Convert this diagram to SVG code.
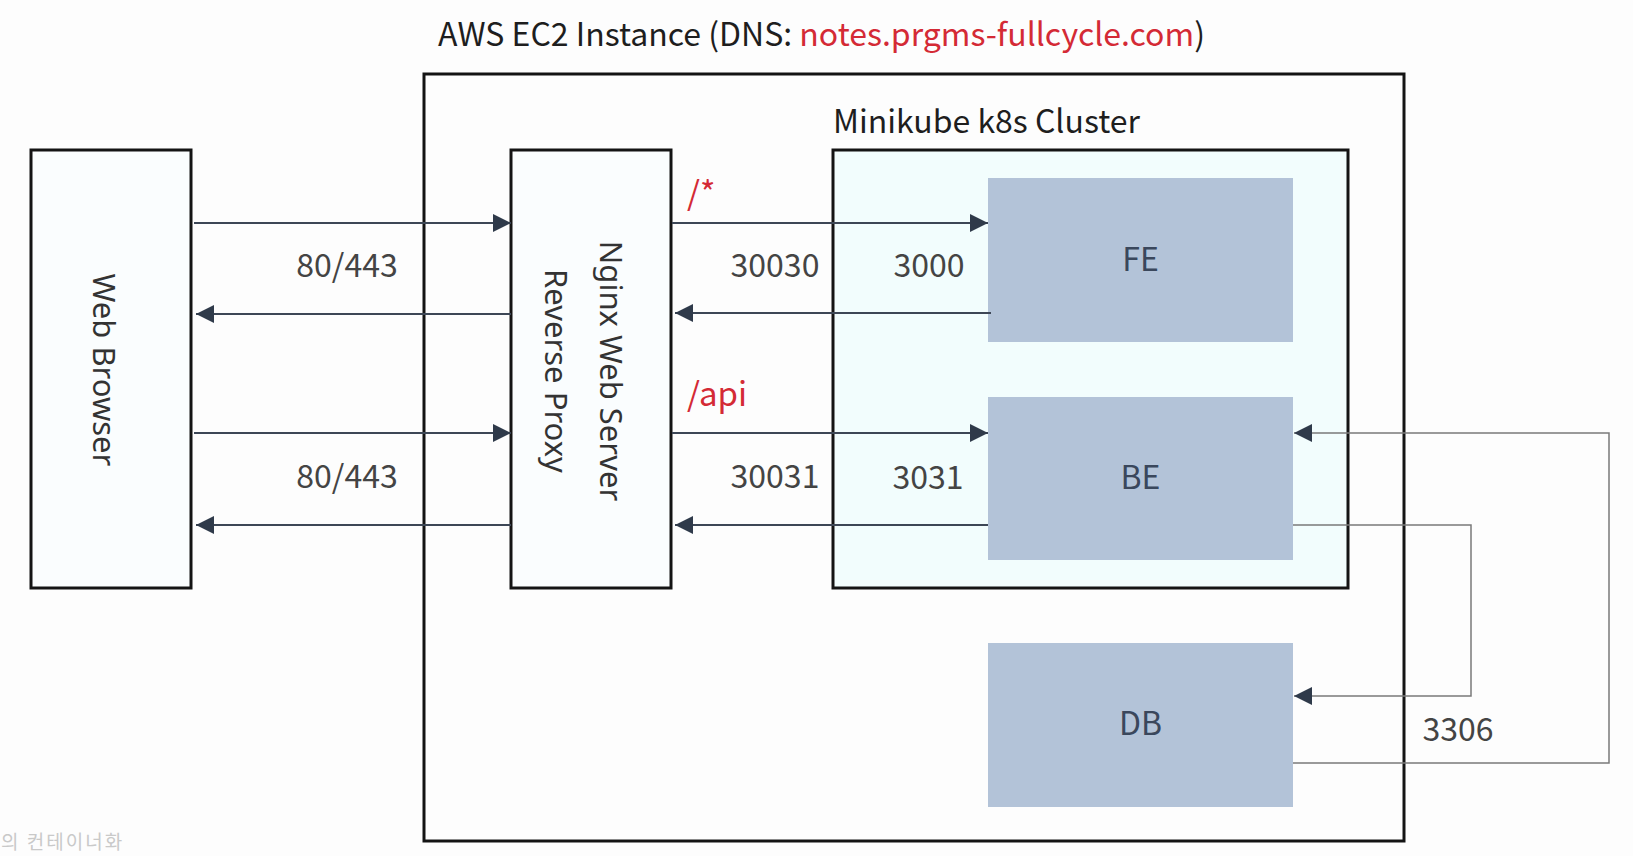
<svg xmlns="http://www.w3.org/2000/svg" width="1633" height="856" viewBox="0 0 1633 856">
  <defs>
    <style>
      .frame { fill: none; stroke: #141414; stroke-width: 3; }
      .plain { fill: #fafdfe; stroke: #141414; stroke-width: 3; }
      .cluster { fill: #f2fdfd; stroke: #141414; stroke-width: 3; }
      .svc { fill: #b3c3d8; stroke: none; }
      .svc-label { font-family: "Noto Sans CJK KR", "Noto Sans", sans-serif; font-size: 32px; fill: #3a475c; text-anchor: middle; }
      .vlabel { font-family: "Noto Sans", "Open Sans", sans-serif; font-size: 31px; fill: #333; text-anchor: middle; }
      .port { font-family: "Noto Sans CJK KR", "Noto Sans", sans-serif; font-size: 32px; fill: #444; text-anchor: middle; }
      .route { font-family: "Noto Sans CJK KR", "Noto Sans", sans-serif; font-size: 33px; fill: #d42a35; }
      .title { font-family: "Noto Sans CJK KR", "Noto Sans", sans-serif; font-size: 32px; fill: #1e1e1e; }
      .conn { fill: none; stroke: #3d4756; stroke-width: 2; marker-end: url(#arrow); }
      .conn-db { fill: none; stroke: #7a7a7a; stroke-width: 1.5; marker-end: url(#arrow); }
    </style>
    <marker id="arrow" viewBox="0 0 18 18" refX="18" refY="9" markerWidth="18" markerHeight="18" markerUnits="userSpaceOnUse" orient="auto">
      <path d="M0,0 L18,9 L0,18 Z" fill="#2f3a4a"/>
    </marker>
  </defs>

  <rect x="0" y="0" width="1633" height="856" fill="#fdfdfd"/>

  <text class="title" x="438" y="46">AWS EC2 Instance (DNS: <tspan fill="#d42a35">notes.prgms-fullcycle.com</tspan>)</text>

  <g id="ec2">
    <rect class="frame" x="424" y="74" width="980" height="767"/>
  </g>

  <g id="cluster">
    <rect class="cluster" x="833" y="150" width="515" height="438"/>
    <text class="title" x="833" y="133">Minikube k8s Cluster</text>
  </g>

  <g id="web-browser">
    <rect class="plain" x="31" y="150" width="160" height="438"/>
    <text class="vlabel" transform="translate(93,370) rotate(90)">Web Browser</text>
  </g>

  <g id="nginx">
    <rect class="plain" x="511" y="150" width="160" height="438"/>
    <text class="vlabel" transform="translate(600,371) rotate(90)">Nginx Web Server</text>
    <text class="vlabel" transform="translate(545,371) rotate(90)">Reverse Proxy</text>
  </g>

  <g id="fe">
    <rect class="svc" x="988" y="178" width="305" height="164"/>
    <text class="svc-label" x="1140.5" y="271">FE</text>
  </g>

  <g id="be">
    <rect class="svc" x="988" y="397" width="305" height="163"/>
    <text class="svc-label" x="1140.5" y="489">BE</text>
  </g>

  <g id="db">
    <rect class="svc" x="988" y="643" width="305" height="164"/>
    <text class="svc-label" x="1140.5" y="735">DB</text>
  </g>

  <g id="connectors">
    <path class="conn" d="M194,223 H511"/>
    <path class="conn" d="M511,314 H196"/>
    <path class="conn" d="M194,433 H511"/>
    <path class="conn" d="M511,525 H196"/>
    <path class="conn" d="M672,223 H988"/>
    <path class="conn" d="M991,313 H675"/>
    <path class="conn" d="M672,433 H988"/>
    <path class="conn" d="M988,525 H675"/>
    <path class="conn-db" d="M1293,525 H1471 V696 H1294"/>
    <path class="conn-db" d="M1293,763 H1609 V433 H1294"/>
  </g>

  <g id="labels">
    <text class="port" x="347" y="277">80/443</text>
    <text class="port" x="347" y="488">80/443</text>
    <text class="port" x="775" y="277">30030</text>
    <text class="port" x="929" y="277">3000</text>
    <text class="port" x="775" y="488">30031</text>
    <text class="port" x="928" y="489">3031</text>
    <text class="port" x="1458" y="741">3306</text>
    <text class="route" x="687" y="205">/*</text>
    <text class="route" x="687" y="406">/api</text>
  </g>

  <text x="1" y="849" font-family="'Noto Sans CJK KR', sans-serif" font-size="19" letter-spacing="2" fill="#c9c9c9">의 컨테이너화</text>
</svg>
